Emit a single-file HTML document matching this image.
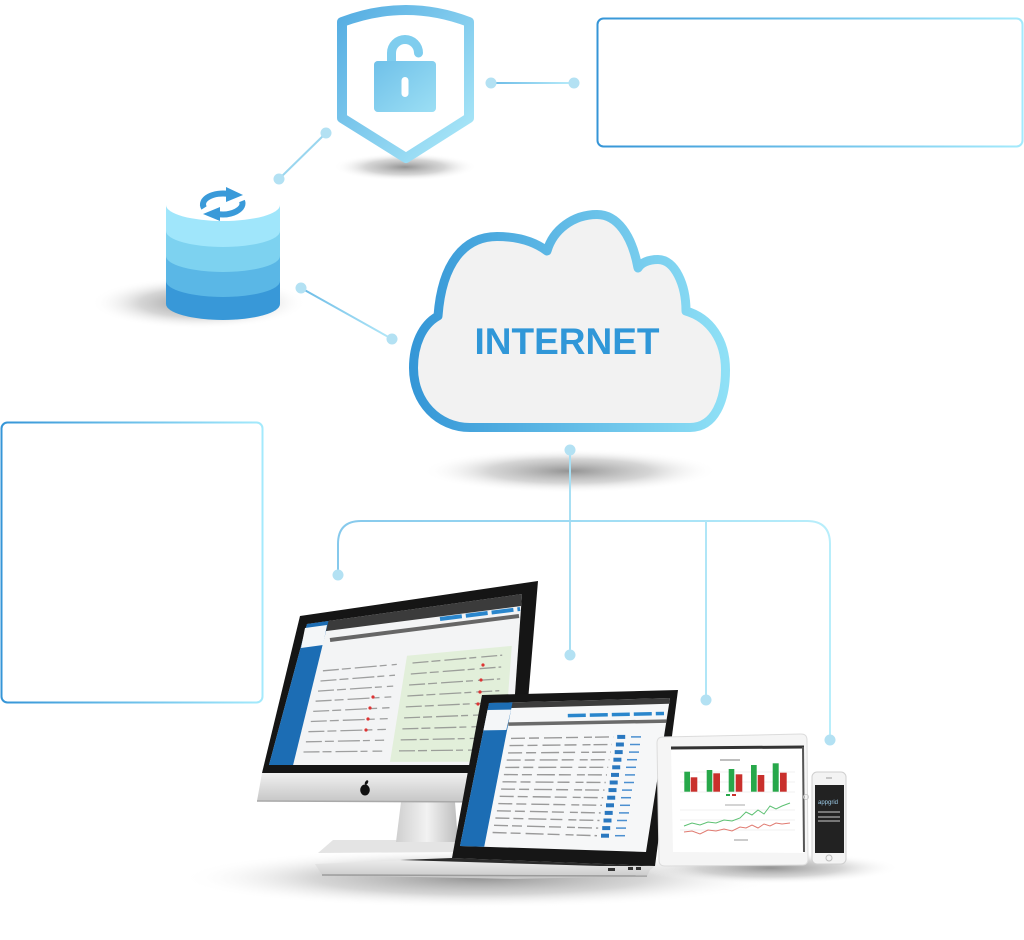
<!DOCTYPE html>
<html><head><meta charset="utf-8"><style>
html,body{margin:0;padding:0;background:#fff;}
svg{display:block;}
</style></head><body>
<svg width="1024" height="940" viewBox="0 0 1024 940" xmlns="http://www.w3.org/2000/svg">
<defs>
<linearGradient id="gBox" x1="0" y1="0" x2="1" y2="0"><stop offset="0" stop-color="#3595d7"/><stop offset="1" stop-color="#a4eafc"/></linearGradient>
<linearGradient id="gShield" x1="0" y1="0" x2="1" y2="1"><stop offset="0" stop-color="#55ade2"/><stop offset="1" stop-color="#aeeaf9"/></linearGradient>
<linearGradient id="gCloud" x1="0" y1="0" x2="1" y2="0"><stop offset="0" stop-color="#3597d7"/><stop offset="1" stop-color="#8fe0f6"/></linearGradient>
<linearGradient id="gL1" gradientUnits="userSpaceOnUse" x1="491" y1="0" x2="574" y2="0"><stop offset="0" stop-color="#6cbbe6"/><stop offset="1" stop-color="#b8ecfa"/></linearGradient>
<linearGradient id="gL2" gradientUnits="userSpaceOnUse" x1="301" y1="0" x2="392" y2="0"><stop offset="0" stop-color="#6cbbe6"/><stop offset="1" stop-color="#b3e8f8"/></linearGradient>
<linearGradient id="gL3" gradientUnits="userSpaceOnUse" x1="338" y1="0" x2="830" y2="0"><stop offset="0" stop-color="#86c9ec"/><stop offset="1" stop-color="#b8eefb"/></linearGradient>
<radialGradient id="gSh"><stop offset="0" stop-color="#808080" stop-opacity="0.85"/><stop offset="0.55" stop-color="#acacac" stop-opacity="0.5"/><stop offset="1" stop-color="#ffffff" stop-opacity="0"/></radialGradient>
<linearGradient id="gSilver" x1="0" y1="0" x2="0" y2="1"><stop offset="0" stop-color="#f0f0f0"/><stop offset="1" stop-color="#c6c6c6"/></linearGradient>
<linearGradient id="gNeck" x1="0" y1="0" x2="1" y2="0"><stop offset="0" stop-color="#cfcfcf"/><stop offset="0.5" stop-color="#f2f2f2"/><stop offset="1" stop-color="#bdbdbd"/></linearGradient>
</defs>

<!-- Text boxes -->
<rect x="597.5" y="18.5" width="425" height="128" rx="6" fill="#fff" stroke="url(#gBox)" stroke-width="2"/>
<rect x="1.5" y="422.5" width="261" height="280" rx="6" fill="#fff" stroke="url(#gBox)" stroke-width="2"/>

<!-- Shadows -->
<ellipse cx="405" cy="167" rx="72" ry="14" fill="url(#gSh)"/>
<ellipse cx="199" cy="303" rx="108" ry="26" fill="url(#gSh)"/>
<ellipse cx="570" cy="471" rx="148" ry="22" fill="url(#gSh)"/>

<!-- Shield -->
<path d="M342,22 Q406,-2 469,22 L469,118 L406,158 L342,118 Z" fill="#fff" stroke="url(#gShield)" stroke-width="10" stroke-linejoin="round"/>
<path d="M391.5,61 L391.5,53 A13.5,13.5 0 0 1 418.5,53" fill="none" stroke="#7fcdee" stroke-width="9" stroke-linecap="round"/>
<rect x="374" y="61" width="62" height="51" rx="4" fill="url(#gShield)"/>
<rect x="374" y="61" width="62" height="51" rx="4" fill="#8ad3f0" opacity="0.5"/>
<rect x="401.5" y="77" width="7" height="20" rx="3.5" fill="#fff"/>

<!-- Connectors top -->
<line x1="491" y1="83" x2="574" y2="83" stroke="url(#gL1)" stroke-width="2"/>
<circle cx="491" cy="83" r="5.5" fill="#b3e1f3"/>
<circle cx="574" cy="83" r="5.5" fill="#b3e1f3"/>
<line x1="326" y1="133" x2="279" y2="179" stroke="#9ad6ef" stroke-width="2"/>
<circle cx="326" cy="133" r="5.5" fill="#b3e1f3"/>
<circle cx="279" cy="179" r="5.5" fill="#b3e1f3"/>
<line x1="301" y1="288" x2="392" y2="339" stroke="url(#gL2)" stroke-width="2"/>
<circle cx="301" cy="288" r="5.5" fill="#b3e1f3"/>
<circle cx="392" cy="339" r="5.5" fill="#b3e1f3"/>

<!-- Database -->
<path d="M166,281 V304 A57,16 0 0 0 280,304 V281 Z" fill="#3898d8"/>
<path d="M166,256 V281 A57,16 0 0 0 280,281 V256 Z" fill="#5ab7e6"/>
<path d="M166,231 V256 A57,16 0 0 0 280,256 V231 Z" fill="#7dd2f0"/>
<path d="M166,205 V231 A57,16 0 0 0 280,231 V205 Z" fill="#a0e6fb"/>
<ellipse cx="223" cy="205" rx="57" ry="16" fill="#fff"/>
<path d="M204,208 A20,11 0 0 1 229,194" fill="none" stroke="#3a9ad9" stroke-width="6"/>
<polygon points="226,187 243,195 226,202" fill="#3a9ad9"/>
<path d="M242,201 A20,11 0 0 1 217,214" fill="none" stroke="#3a9ad9" stroke-width="6"/>
<polygon points="220,207 203,214 220,221" fill="#3a9ad9"/>

<!-- Cloud -->
<path d="M470,427.5 L690,427.5 C715,427.5 725.5,400 725.5,370 C725.5,340 710,318 686,311 C686,285 675,259.5 658,259.5 C648,259.5 641,263 638,268 C632,235 617,214.5 597,214.5 C573,214.5 553,230 547,251 C535,242 518,236.5 497,236.5 C465,236.5 442,262 438,316 C422,325 413.5,345 413.5,368 C413.5,402 438,427.5 470,427.5 Z" fill="#f2f2f2" stroke="url(#gCloud)" stroke-width="9" stroke-linejoin="round"/>
<text x="567" y="354" text-anchor="middle" font-family="Liberation Sans, sans-serif" font-weight="bold" font-size="37" fill="#3097d8">INTERNET</text>

<!-- Device connectors -->
<line x1="570" y1="450" x2="570" y2="655" stroke="#a8dff3" stroke-width="2"/>
<path d="M338,575 L338,544 Q338,521 361,521 L807,521 Q830,521 830,544 L830,740" fill="none" stroke="url(#gL3)" stroke-width="2"/>
<line x1="706" y1="521" x2="706" y2="700" stroke="#b0e6f7" stroke-width="2"/>
<circle cx="570" cy="450" r="5.5" fill="#b3e1f3"/>
<circle cx="338" cy="575" r="5.5" fill="#b3e1f3"/>
<circle cx="570" cy="655" r="5.5" fill="#b3e1f3"/>
<circle cx="706" cy="700" r="5.5" fill="#b3e1f3"/>
<circle cx="830" cy="740" r="5.5" fill="#b3e1f3"/>

<!-- Device shadow -->
<ellipse cx="480" cy="878" rx="300" ry="30" fill="url(#gSh)"/>
<ellipse cx="770" cy="868" rx="130" ry="16" fill="url(#gSh)"/>

<!-- iMac -->
<polygon points="333,840 453,840 462,852 318,853" fill="#e4e4e4"/>
<polygon points="401,802 455,802 458,842 396,842" fill="url(#gNeck)"/>
<polygon points="262,773 522,773 520,802 257,801" fill="url(#gSilver)"/>
<line x1="257" y1="801" x2="520" y2="802" stroke="#a9a9a9" stroke-width="1.5"/>
<ellipse cx="365" cy="790" rx="4.8" ry="5.5" fill="#111"/>
<ellipse cx="366.5" cy="782.5" rx="1.4" ry="2.4" fill="#111" transform="rotate(30 366.5 782.5)"/>
<polygon points="300,616 538,581 522,773 262,773" fill="#151515"/>
<polygon points="307,624 522,594 510,765 269,765" fill="#f3f4f5"/>
<polygon points="307,624 522,594 521.2,606 304.3,633.9" fill="#3b3b3b"/>
<polygon points="307,624 328.5,621 293.1,765 269,765" fill="#1c6db4"/>
<polygon points="305,628 327,625 323,645 301,648" fill="#f4f6f8"/>
<line x1="440" y1="619" x2="520" y2="609" stroke="#2a86cc" stroke-width="4" stroke-dasharray="22 4"/>
<line x1="330" y1="640" x2="519" y2="616" stroke="#666" stroke-width="4"/>
<polygon points="407,655.8 511.8,645.9 503.1,761.6 390,761.9" fill="#e2efda"/>
<g stroke="#8a8a8a" stroke-width="1.3" stroke-dasharray="16 3 9 4 22 3 7 5" opacity="0.8">
<line x1="322.9" y1="670.8" x2="396.8" y2="664.4"/><line x1="412.5" y1="663.0" x2="502.2" y2="655.2"/>
<line x1="320.5" y1="681.0" x2="395.0" y2="675.2"/><line x1="410.8" y1="674.0" x2="501.2" y2="667.0"/>
<line x1="318.0" y1="691.1" x2="393.2" y2="686.1"/><line x1="409.1" y1="685.0" x2="500.2" y2="678.9"/>
<line x1="315.6" y1="701.2" x2="391.3" y2="696.9"/><line x1="407.4" y1="696.0" x2="499.3" y2="690.7"/>
<line x1="313.2" y1="711.4" x2="389.5" y2="707.7"/><line x1="405.8" y1="706.9" x2="498.3" y2="702.5"/>
<line x1="310.8" y1="721.5" x2="387.7" y2="718.6"/><line x1="404.1" y1="717.9" x2="497.3" y2="714.3"/>
<line x1="308.4" y1="731.7" x2="385.9" y2="729.4"/><line x1="402.4" y1="728.9" x2="496.4" y2="726.1"/>
<line x1="305.9" y1="741.8" x2="384.1" y2="740.2"/><line x1="400.7" y1="739.9" x2="495.4" y2="738.0"/>
<line x1="303.5" y1="752.0" x2="382.2" y2="751.1"/><line x1="399.0" y1="750.9" x2="494.4" y2="749.8"/>
</g>
<g fill="#d33">
<circle cx="373" cy="697" r="1.6"/><circle cx="370" cy="708" r="1.6"/><circle cx="368" cy="719" r="1.6"/><circle cx="366" cy="730" r="1.6"/>
<circle cx="483" cy="665" r="1.6"/><circle cx="481" cy="680" r="1.6"/><circle cx="480" cy="692" r="1.6"/><circle cx="478" cy="704" r="1.6"/>
</g>

<!-- Laptop base -->
<polygon points="315,864 452,858 655,866 650,870 647,876 513,879 322,875" fill="url(#gSilver)"/>
<line x1="322" y1="875" x2="647" y2="876" stroke="#9c9c9c" stroke-width="1.5"/>
<polygon points="400,860 452,858 655,866 600,866" fill="#2a2a2a"/>
<rect x="608" y="868" width="7" height="3" fill="#333"/><rect x="628" y="867" width="5" height="3" fill="#333"/><rect x="636" y="867" width="5" height="3" fill="#333"/>

<!-- Laptop lid -->
<polygon points="482,695 678,690 655,866 452,858" fill="#161616"/>
<polygon points="489,703 670,698 646,852 460,846" fill="#f6f7f8"/>
<polygon points="489,703 670,698 669,703.8 487.8,708.7" fill="#3c3c3c"/>
<polygon points="489,703 512.5,702.4 484.2,846.8 460,846" fill="#1c6db4"/>
<polygon points="487.5,710 511.1,709.6 506.3,730 483.4,730.4" fill="#f4f6f8"/>
<line x1="567.8" y1="715.6" x2="664" y2="713.5" stroke="#2a86cc" stroke-width="3.5" stroke-dasharray="18 4"/>
<line x1="508.3" y1="724.1" x2="666.4" y2="721.1" stroke="#6a6a6a" stroke-width="3.5"/>
<g stroke="#8a8a8a" stroke-width="1.4" stroke-dasharray="14 4 10 5 18 4 12 6 8 3" opacity="0.85">
<line x1="511.0" y1="738.4" x2="613.2" y2="736.9"/>
<line x1="509.5" y1="745.6" x2="611.9" y2="744.5"/>
<line x1="508.1" y1="752.9" x2="610.7" y2="752.1"/>
<line x1="506.7" y1="760.1" x2="609.4" y2="759.7"/>
<line x1="505.3" y1="767.4" x2="608.2" y2="767.3"/>
<line x1="503.9" y1="774.6" x2="607.0" y2="774.9"/>
<line x1="502.5" y1="781.8" x2="605.7" y2="782.5"/>
<line x1="501.1" y1="789.1" x2="604.5" y2="790.1"/>
<line x1="499.7" y1="796.3" x2="603.2" y2="797.7"/>
<line x1="498.3" y1="803.6" x2="602.0" y2="805.3"/>
<line x1="496.9" y1="810.8" x2="600.7" y2="812.9"/>
<line x1="495.4" y1="818.0" x2="599.5" y2="820.5"/>
<line x1="494.0" y1="825.3" x2="598.2" y2="828.1"/>
<line x1="492.6" y1="832.5" x2="597.0" y2="835.7"/>
</g>
<g stroke="#2a78c0" stroke-width="4">
<line x1="617.2" y1="736.9" x2="625.2" y2="736.9"/><line x1="615.9" y1="744.5" x2="623.9" y2="744.5"/>
<line x1="614.7" y1="752.1" x2="622.7" y2="752.1"/><line x1="613.4" y1="759.7" x2="621.4" y2="759.7"/>
<line x1="612.2" y1="767.3" x2="620.2" y2="767.3"/><line x1="611.0" y1="774.9" x2="619.0" y2="774.9"/>
<line x1="609.7" y1="782.5" x2="617.7" y2="782.5"/><line x1="608.5" y1="790.1" x2="616.5" y2="790.1"/>
<line x1="607.2" y1="797.7" x2="615.2" y2="797.7"/><line x1="606.0" y1="805.3" x2="614.0" y2="805.3"/>
<line x1="604.7" y1="812.9" x2="612.7" y2="812.9"/><line x1="603.5" y1="820.5" x2="611.5" y2="820.5"/>
<line x1="602.2" y1="828.1" x2="610.2" y2="828.1"/><line x1="601.0" y1="835.7" x2="609.0" y2="835.7"/>
</g>
<g stroke="#4b8fd0" stroke-width="1.5">
<line x1="631" y1="736.9" x2="641" y2="736.9"/><line x1="630" y1="744.5" x2="640" y2="744.5"/>
<line x1="629" y1="752.1" x2="639" y2="752.1"/><line x1="627" y1="759.7" x2="637" y2="759.7"/>
<line x1="626" y1="767.3" x2="636" y2="767.3"/><line x1="625" y1="774.9" x2="635" y2="774.9"/>
<line x1="624" y1="782.5" x2="634" y2="782.5"/><line x1="622" y1="790.1" x2="632" y2="790.1"/>
<line x1="621" y1="797.7" x2="631" y2="797.7"/><line x1="620" y1="805.3" x2="630" y2="805.3"/>
<line x1="619" y1="812.9" x2="629" y2="812.9"/><line x1="617" y1="820.5" x2="627" y2="820.5"/>
<line x1="616" y1="828.1" x2="626" y2="828.1"/><line x1="615" y1="835.7" x2="625" y2="835.7"/>
</g>

<!-- Tablet -->
<path d="M663,737 L801,734 Q807,734 807,740 L808,859 Q808,865 802,865 L665,866 Q659,866 659,860 L657,743 Q657,737 663,737 Z" fill="#f5f5f5" stroke="#dcdcdc" stroke-width="1"/>
<polygon points="671,747 804,746 804,853 673,852" fill="#fff"/>
<line x1="671" y1="748" x2="804" y2="747" stroke="#333" stroke-width="3"/>
<line x1="803" y1="747" x2="804" y2="852" stroke="#555" stroke-width="2"/>
<circle cx="806" cy="797" r="2.5" fill="none" stroke="#ccc" stroke-width="1"/>
<line x1="720" y1="760" x2="740" y2="760" stroke="#999" stroke-width="1.2"/>
<g stroke="#eee" stroke-width="0.8">
<line x1="680" y1="772" x2="795" y2="772"/><line x1="680" y1="782" x2="795" y2="782"/><line x1="680" y1="792" x2="795" y2="792"/>
<line x1="680" y1="810" x2="795" y2="810"/><line x1="680" y1="820" x2="795" y2="820"/><line x1="680" y1="830" x2="795" y2="830"/>
</g>
<g fill="#27a84a">
<rect x="684.3" y="771.7" width="5.7" height="20"/><rect x="706.7" y="770" width="5.6" height="21.7"/>
<rect x="728.7" y="769" width="5.6" height="22.7"/><rect x="751" y="765" width="5.7" height="26.7"/>
<rect x="772.7" y="763.3" width="6" height="28.4"/>
</g>
<g fill="#c9302c">
<rect x="690.7" y="777.3" width="6.6" height="14.4"/><rect x="713.3" y="773.3" width="6.7" height="18.4"/>
<rect x="735.7" y="774.3" width="6.6" height="17.4"/><rect x="757.7" y="775" width="6.6" height="16.7"/>
<rect x="780" y="772.7" width="6.7" height="19"/>
</g>
<rect x="726" y="794" width="4" height="2" fill="#27a84a"/><rect x="732" y="794" width="4" height="2" fill="#c9302c"/>
<line x1="725" y1="805" x2="745" y2="805" stroke="#aaa" stroke-width="1"/>
<polyline points="684,826 692,823 700,825 708,822 716,823 724,820 732,821 740,818 746,812 752,815 758,810 764,814 770,806 776,809 782,806 790,803" fill="none" stroke="#5cc072" stroke-width="1"/>
<polyline points="684,832 692,831 700,834 708,830 716,831 724,829 732,831 740,827 746,828 752,825 758,828 764,824 770,826 776,823 782,824 790,823" fill="none" stroke="#e07a70" stroke-width="1"/>
<line x1="734" y1="840" x2="748" y2="840" stroke="#bbb" stroke-width="1.5"/>

<!-- Phone -->
<rect x="812" y="772" width="34" height="92" rx="5" fill="#f3f3f3" stroke="#cfcfcf" stroke-width="1"/>
<rect x="815" y="785" width="29" height="68" fill="#222"/>
<line x1="826" y1="778" x2="832" y2="778" stroke="#aaa" stroke-width="1.2"/>
<circle cx="829" cy="858" r="3" fill="none" stroke="#bbb" stroke-width="1"/>
<text x="818" y="804" font-family="Liberation Sans, sans-serif" font-size="6" fill="#9ccbe8">appgrid</text>
<g stroke="#ccc" stroke-width="1"><line x1="818" y1="812" x2="840" y2="812"/><line x1="818" y1="817" x2="840" y2="817"/><line x1="818" y1="821" x2="840" y2="821"/></g>
</svg>
</body></html>
